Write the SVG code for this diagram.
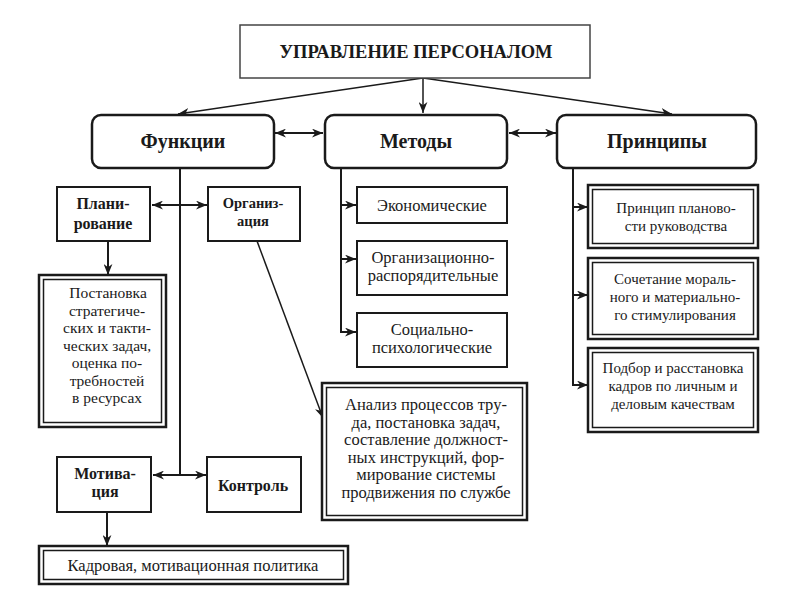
<svg xmlns="http://www.w3.org/2000/svg" width="785" height="599" viewBox="0 0 785 599" font-family="Liberation Serif, Times New Roman, serif">
<defs>
<marker id="ah" viewBox="0 0 10 8" refX="10" refY="4" markerWidth="11" markerHeight="9" markerUnits="userSpaceOnUse" orient="auto-start-reverse">
<path d="M0,0 L10,4 L0,8 L3,4 z" fill="#1a1a1a"/>
</marker>
</defs>
<style>
text{fill:#1a1a1a;text-anchor:middle}
.b{font-weight:bold}
.t{font-size:18.5px}
.h{font-size:20px}
.s{font-size:16px}
.r{font-size:16.5px}
.q{font-size:15.5px}
.p{font-size:15px}
.box{fill:#fff;stroke:#1a1a1a;stroke-width:2}
.top{fill:#fff;stroke:#444;stroke-width:1.5}
.rnd{fill:#fff;stroke:#1a1a1a;stroke-width:2.5}
.dbo{fill:#fff;stroke:#1a1a1a;stroke-width:2.5}
.dbi{fill:none;stroke:#1a1a1a;stroke-width:1.5}
.ln{fill:none;stroke:#1a1a1a;stroke-width:2}
.ln1{fill:none;stroke:#1a1a1a;stroke-width:1.5}
</style>
<rect width="785" height="599" fill="#fff"/>

<g id="connectors">
<path class="ln1" d="M423,78 L423,113" marker-end="url(#ah)"/>
<path class="ln1" d="M423,78 L178,114" marker-end="url(#ah)"/>
<path class="ln1" d="M423,78 L672,114" marker-end="url(#ah)"/>
<path class="ln" d="M275,133 L323,133" marker-start="url(#ah)" marker-end="url(#ah)"/>
<path class="ln" d="M509,133 L556,133" marker-start="url(#ah)" marker-end="url(#ah)"/>
<path class="ln" d="M180,168 L180,475"/>
<path class="ln" d="M152,205 L207,205" marker-start="url(#ah)" marker-end="url(#ah)"/>
<path class="ln" d="M153,475 L206,475" marker-start="url(#ah)" marker-end="url(#ah)"/>
<path class="ln" d="M108,241 L108,275" marker-end="url(#ah)"/>
<path class="ln" d="M107,512 L107,546" marker-end="url(#ah)"/>
<path class="ln1" d="M257,241 L323,418" marker-end="url(#ah)"/>
<path class="ln" d="M341,168 L341,332"/>
<path class="ln" d="M340,205 L356,205" marker-end="url(#ah)"/>
<path class="ln" d="M340,259 L356,259" marker-end="url(#ah)"/>
<path class="ln" d="M340,332 L356,332" marker-end="url(#ah)"/>
<path class="ln" d="M573,168 L573,385"/>
<path class="ln" d="M572,207 L588,207" marker-end="url(#ah)"/>
<path class="ln" d="M572,295 L588,295" marker-end="url(#ah)"/>
<path class="ln" d="M572,385 L588,385" marker-end="url(#ah)"/>
</g>

<g id="n-top">
<rect class="top" x="240" y="25" width="350" height="53"/>
<text class="b t" x="416" y="58">УПРАВЛЕНИЕ ПЕРСОНАЛОМ</text>
</g>

<g id="n-funktsii">
<rect class="rnd" x="92" y="115" width="182" height="53" rx="9"/>
<text class="b h" x="183" y="148">Функции</text>
</g>
<g id="n-metody">
<rect class="rnd" x="325" y="115" width="182" height="53" rx="9"/>
<text class="b h" x="416" y="148">Методы</text>
</g>
<g id="n-printsipy">
<rect class="rnd" x="557" y="115" width="199" height="53" rx="9"/>
<text class="b h" x="657" y="148">Принципы</text>
</g>

<g id="n-planirovanie">
<rect class="box" x="57" y="187" width="93" height="54"/>
<text class="b s" x="103" y="209">Плани-</text>
<text class="b s" x="103" y="229">рование</text>
</g>
<g id="n-organizatsiya">
<rect class="box" x="208" y="187" width="92" height="54"/>
<text class="b" font-size="14.5" x="253" y="208">Организ-</text>
<text class="b" font-size="14.5" x="253" y="226">ация</text>
</g>

<g id="n-postanovka">
<rect class="dbo" x="39" y="275" width="127" height="152"/>
<rect class="dbi" x="43.5" y="279.5" width="118" height="143"/>
<text class="q" x="108" y="298">Постановка</text>
<text class="q" x="107" y="315.5">стратегиче-</text>
<text class="q" x="107" y="333">ских и такти-</text>
<text class="q" x="107" y="350.5">ческих задач,</text>
<text class="q" x="107" y="368">оценка по-</text>
<text class="q" x="107" y="385.5">требностей</text>
<text class="q" x="107" y="403">в ресурсах</text>
</g>

<g id="n-motivatsiya">
<rect class="box" x="57" y="457" width="94" height="55"/>
<text class="b s" x="105" y="479">Мотива-</text>
<text class="b s" x="105" y="497">ция</text>
</g>
<g id="n-kontrol">
<rect class="box" x="207" y="457" width="94" height="55"/>
<text class="b s" x="253" y="491">Контроль</text>
</g>

<g id="n-kadrovaya">
<rect class="dbo" x="39" y="546" width="309" height="38"/>
<rect class="dbi" x="43.5" y="550.5" width="300" height="29"/>
<text class="r" x="193" y="571">Кадровая, мотивационная политика</text>
</g>

<g id="n-ekonomicheskie">
<rect class="box" x="357" y="187" width="150" height="36"/>
<text class="r" x="432" y="211">Экономические</text>
</g>
<g id="n-org-rasp">
<rect class="box" x="357" y="241" width="150" height="54"/>
<text class="r" x="433" y="263">Организационно-</text>
<text class="r" x="433" y="281">распорядительные</text>
</g>
<g id="n-sots-psikh">
<rect class="box" x="357" y="313" width="150" height="54"/>
<text class="r" x="432" y="335">Социально-</text>
<text class="r" x="432" y="353">психологические</text>
</g>

<g id="n-analiz">
<rect class="dbo" x="322" y="383" width="205" height="137"/>
<rect class="dbi" x="326.5" y="387.5" width="196" height="128"/>
<text class="r" x="426" y="410">Анализ процессов тру-</text>
<text class="r" x="426" y="427.6">да, постановка задач,</text>
<text class="r" x="426" y="445.2">составление должност-</text>
<text class="r" x="426" y="462.8">ных инструкций, фор-</text>
<text class="r" x="426" y="480.4">мирование системы</text>
<text class="r" x="426" y="498">продвижения по службе</text>
</g>

<g id="n-pr1">
<rect class="dbo" x="588" y="185" width="170" height="63"/>
<rect class="dbi" x="592.5" y="189.5" width="161" height="54"/>
<text class="p" x="676" y="213">Принцип планово-</text>
<text class="p" x="676" y="231">сти руководства</text>
</g>
<g id="n-pr2">
<rect class="dbo" x="588" y="258" width="170" height="81"/>
<rect class="dbi" x="592.5" y="262.5" width="161" height="72"/>
<text class="p" x="675" y="284">Сочетание мораль-</text>
<text class="p" x="675" y="302">ного и материально-</text>
<text class="p" x="675" y="320">го стимулирования</text>
</g>
<g id="n-pr3">
<rect class="dbo" x="588" y="348" width="170" height="84"/>
<rect class="dbi" x="592.5" y="352.5" width="161" height="75"/>
<text class="p" x="673" y="373" font-size="14.5">Подбор и расстановка</text>
<text class="p" x="673" y="391">кадров по личным и</text>
<text class="p" x="673" y="409">деловым качествам</text>
</g>
</svg>
